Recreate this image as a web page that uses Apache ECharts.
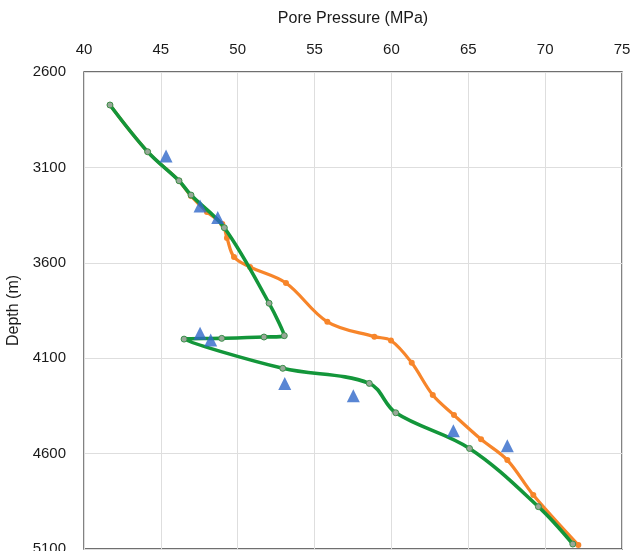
<!DOCTYPE html>
<html>
<head>
<meta charset="utf-8">
<script src="https://cdn.jsdelivr.net/npm/echarts@6/dist/echarts.min.js"></script>
<style>
html,body{margin:0;padding:0;background:#fff;}
#chart{width:633px;height:551px;}
</style>
</head>
<body>
<div id="chart"></div>
<script>
// Green model curve
const greenPressure = [41.69, 44.14, 46.18, 46.96, 49.13, 52.04, 53.03, 51.71, 48.96, 46.51, 52.93, 58.56, 60.28, 65.08, 69.56, 71.80];
const greenDepth    = [2773, 3018, 3170, 3245, 3416, 3812, 3982, 3989, 3996, 4000, 4153, 4232, 4386, 4573, 4878, 5074];
// Orange model curve
const orangePressure = [41.69, 44.14, 46.18, 46.96, 48.00, 49.00, 49.30, 49.76, 50.80, 53.14, 55.83, 58.89, 59.97, 61.32, 62.69, 64.07, 65.83, 67.54, 69.23, 72.16];
const orangeDepth    = [2773, 3018, 3170, 3250, 3334, 3397, 3470, 3570, 3622, 3706, 3909, 3987, 4007, 4124, 4293, 4398, 4525, 4634, 4817, 5079];
// Measured points (triangles)
const measPressure = [45.34, 47.55, 48.70, 47.55, 48.24, 53.06, 57.52, 64.03, 67.54];
const measDepth    = [3040, 3302, 3362, 3969, 4005, 4233, 4297, 4480, 4559];
// Axis ticks
const xTicks = [40, 45, 50, 55, 60, 65, 70, 75];
const yTicks = [2600, 3100, 3600, 4100, 4600, 5100];

const zip = (a, b) => a.map((v, i) => [v, b[i]]);
const font = 'Liberation Sans, Arial, sans-serif';

const chart = echarts.init(document.getElementById('chart'), null, {renderer: 'canvas'});
chart.setOption({
  animation: false,
  grid: {left: 84, right: 11, top: 72, bottom: 2, containLabel: false, outerBoundsMode: 'none',
         show: true, borderColor: '#404040', borderWidth: 1.3, backgroundColor: 'transparent'},
  xAxis: {
    type: 'value', position: 'top',
    min: xTicks[0], max: xTicks[xTicks.length - 1], interval: 5,
    name: 'Pore Pressure (MPa)', nameLocation: 'middle', nameGap: 45,
    nameTextStyle: {fontFamily: font, fontSize: 16, color: '#1a1a1a'},
    axisLine: {show: false}, axisTick: {show: false},
    axisLabel: {fontFamily: font, fontSize: 15, color: '#1a1a1a', margin: 15, formatter: v => String(v)},
    splitLine: {show: true, lineStyle: {color: '#dedede', width: 1}}
  },
  yAxis: {
    type: 'value', inverse: true,
    min: yTicks[0], max: yTicks[yTicks.length - 1], interval: 500,
    name: 'Depth (m)', nameLocation: 'middle', nameGap: 56, nameRotate: 90,
    nameTextStyle: {fontFamily: font, fontSize: 16, color: '#1a1a1a'},
    axisLine: {show: false}, axisTick: {show: false},
    axisLabel: {fontFamily: font, fontSize: 15, color: '#1a1a1a', margin: 18, formatter: v => String(v)},
    splitLine: {show: true, lineStyle: {color: '#dedede', width: 1}}
  },
  series: [
    {
      type: 'line', data: zip(orangePressure, orangeDepth), smooth: 0.35, z: 2,
      symbol: 'circle', symbolSize: 6,
      lineStyle: {color: '#f7852a', width: 3.2},
      itemStyle: {color: '#f7852a'}
    },
    {
      type: 'line', data: zip(greenPressure, greenDepth), smooth: 0.35, z: 3,
      symbol: 'circle', symbolSize: 6,
      lineStyle: {color: '#13963a', width: 3.6},
      itemStyle: {color: '#98a898', borderColor: '#3a8f4a', borderWidth: 1}
    },
    {
      type: 'scatter', data: zip(measPressure, measDepth), z: 4,
      symbol: 'triangle', symbolSize: 13,
      itemStyle: {color: '#2f68c9'}
    }
  ]
});
</script>
</body>
</html>
